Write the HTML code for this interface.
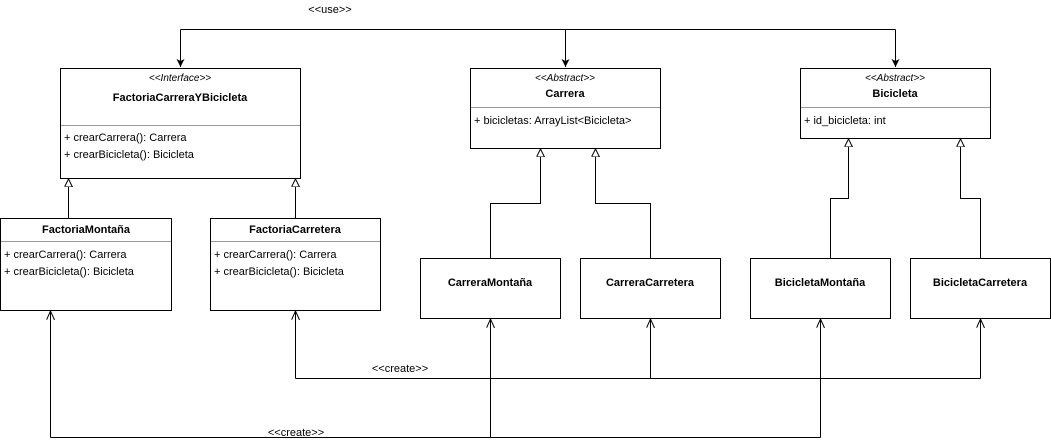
<!DOCTYPE html>
<html><head><meta charset="utf-8"><style>body{margin:0;background:#fff}svg{display:block}</style></head><body>
<svg width="1051" height="448" xmlns="http://www.w3.org/2000/svg" font-family="Liberation Sans, Arial, sans-serif" font-size="11">
<defs>
<marker id="f" markerWidth="10" markerHeight="10" refX="8" refY="4" orient="auto" markerUnits="userSpaceOnUse"><path d="M0,0 L8,4 L0,8 L2,4 Z" fill="#000"/></marker>
<marker id="o" markerWidth="10" markerHeight="10" refX="9" refY="4" orient="auto" markerUnits="userSpaceOnUse"><path d="M0,0 L9,4 L0,8" fill="none" stroke="#000"/></marker>
<marker id="t" markerWidth="12" markerHeight="12" refX="8" refY="4" orient="auto" markerUnits="userSpaceOnUse"><path d="M0,0 L8,4 L0,8 Z" fill="#fff" stroke="#000"/></marker>
</defs>
<g fill="none" stroke="#000" stroke-width="1">
<path d="M180.5,29.5 H895.5"/>
<path d="M180.5,29.5 V67" marker-end="url(#f)"/>
<path d="M565.5,29.5 V67" marker-end="url(#f)"/>
<path d="M895.5,29.5 V67" marker-end="url(#f)"/>
<path d="M68.5,218 V179" marker-end="url(#t)"/>
<path d="M295.5,218 V179" marker-end="url(#t)"/>
<path d="M490.5,258 V203.5 H540.5 V149" marker-end="url(#t)"/>
<path d="M650.5,258 V203.5 H595.5 V149" marker-end="url(#t)"/>
<path d="M830.5,258 V198.5 H848.5 V139" marker-end="url(#t)"/>
<path d="M980.5,258 V198.5 H960.5 V139" marker-end="url(#t)"/>
<path d="M295.5,378.5 H980.5"/>
<path d="M295.5,378.5 V311" marker-end="url(#o)"/>
<path d="M650.5,378.5 V319" marker-end="url(#o)"/>
<path d="M980.5,378.5 V319" marker-end="url(#o)"/>
<path d="M50.5,437.5 H820.5"/>
<path d="M50.5,437.5 V311" marker-end="url(#o)"/>
<path d="M490.5,437.5 V319" marker-end="url(#o)"/>
<path d="M820.5,437.5 V319" marker-end="url(#o)"/>
<rect x="60.5" y="68.5" width="240" height="110"/>
<rect x="0.5" y="218.5" width="171" height="92"/>
<rect x="210.5" y="218.5" width="170" height="92"/>
<rect x="470.5" y="68.5" width="190" height="80"/>
<rect x="800.5" y="68.5" width="190" height="70"/>
<rect x="420.5" y="258.5" width="140" height="60"/>
<rect x="580.5" y="258.5" width="140" height="60"/>
<rect x="750.5" y="258.5" width="140" height="60"/>
<rect x="910.5" y="258.5" width="140" height="60"/>
</g>
<g stroke="#999"><path d="M61,125.5 H300"/><path d="M1,241.5 H171"/><path d="M211,241.5 H380"/><path d="M471,107.5 H660"/><path d="M801,107.5 H990"/></g>
<g fill="#000">
<text x="330" y="13" text-anchor="middle">&lt;&lt;use&gt;&gt;</text>
<text x="400" y="372" text-anchor="middle">&lt;&lt;create&gt;&gt;</text>
<text x="296" y="436" text-anchor="middle">&lt;&lt;create&gt;&gt;</text>
<text x="180" y="81" text-anchor="middle" font-style="italic" font-size="10">&lt;&lt;Interface&gt;&gt;</text>
<text x="180" y="101" text-anchor="middle" font-weight="bold">FactoriaCarreraYBicicleta</text>
<text x="64" y="141">+ crearCarrera(): Carrera</text>
<text x="64" y="158">+ crearBicicleta(): Bicicleta</text>
<text x="86" y="233" text-anchor="middle" font-weight="bold">FactoriaMontaña</text>
<text x="4" y="258">+ crearCarrera(): Carrera</text>
<text x="4" y="275">+ crearBicicleta(): Bicicleta</text>
<text x="295" y="233" text-anchor="middle" font-weight="bold">FactoriaCarretera</text>
<text x="214" y="258">+ crearCarrera(): Carrera</text>
<text x="214" y="275">+ crearBicicleta(): Bicicleta</text>
<text x="565" y="81" text-anchor="middle" font-style="italic" font-size="10">&lt;&lt;Abstract&gt;&gt;</text>
<text x="565" y="97" text-anchor="middle" font-weight="bold">Carrera</text>
<text x="474" y="124">+ bicicletas: ArrayList&lt;Bicicleta&gt;</text>
<text x="895" y="81" text-anchor="middle" font-style="italic" font-size="10">&lt;&lt;Abstract&gt;&gt;</text>
<text x="895" y="97" text-anchor="middle" font-weight="bold">Bicicleta</text>
<text x="804" y="124">+ id_bicicleta: int</text>
<text x="490" y="286" text-anchor="middle" font-weight="bold">CarreraMontaña</text>
<text x="650" y="286" text-anchor="middle" font-weight="bold">CarreraCarretera</text>
<text x="820" y="286" text-anchor="middle" font-weight="bold">BicicletaMontaña</text>
<text x="980" y="286" text-anchor="middle" font-weight="bold">BicicletaCarretera</text>
</g>
</svg>
</body></html>
